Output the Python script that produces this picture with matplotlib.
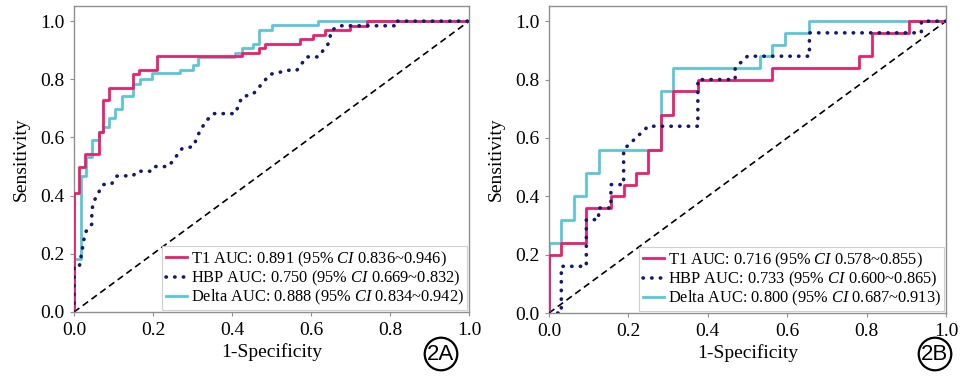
import matplotlib
matplotlib.use('Agg')
import matplotlib.pyplot as plt

plt.rcParams['font.family'] = ['Liberation Serif', 'DejaVu Serif']
plt.rcParams['mathtext.fontset'] = 'custom'
plt.rcParams['mathtext.rm'] = 'Liberation Serif'
plt.rcParams['mathtext.it'] = 'Liberation Serif:italic'

# ---- panel 2A ----
t1_a_fpr = [0, 0, 0.013, 0.013, 0.028, 0.028, 0.062, 0.062, 0.074, 0.074, 0.089, 0.089, 0.150, 0.150,
            0.165, 0.165, 0.211, 0.211, 0.424, 0.424, 0.469, 0.469, 0.484, 0.484, 0.572, 0.572,
            0.604, 0.604, 0.635, 0.635, 0.699, 0.699, 0.741, 0.741, 1.0]
t1_a_tpr = [0, 0.408, 0.408, 0.500, 0.500, 0.544, 0.544, 0.618, 0.618, 0.728, 0.728, 0.771, 0.771, 0.817,
            0.817, 0.831, 0.831, 0.879, 0.879, 0.892, 0.892, 0.909, 0.909, 0.923, 0.923, 0.938,
            0.938, 0.954, 0.954, 0.969, 0.969, 0.984, 0.984, 1.0, 1.0]

hbp_a_fpr = [0, 0, 0.013, 0.028, 0.045, 0.045, 0.049, 0.062, 0.074, 0.095, 0.108, 0.150, 0.159, 0.197,
             0.205, 0.239, 0.273, 0.302, 0.319, 0.336, 0.353, 0.408, 0.425, 0.454, 0.496, 0.543,
             0.564, 0.589, 0.618, 0.644, 0.652, 0.673, 0.813, 0.813, 1.0]
hbp_a_tpr = [0, 0.153, 0.153, 0.273, 0.302, 0.348, 0.377, 0.411, 0.438, 0.440, 0.467, 0.469, 0.484, 0.484,
             0.500, 0.500, 0.561, 0.569, 0.624, 0.659, 0.682, 0.682, 0.739, 0.750, 0.817, 0.831,
             0.831, 0.877, 0.877, 0.923, 0.969, 0.984, 0.984, 1.0, 1.0]

delta_a_fpr = [0, 0, 0.017, 0.017, 0.030, 0.030, 0.045, 0.045, 0.062, 0.062, 0.074, 0.074, 0.089, 0.089,
               0.104, 0.104, 0.121, 0.121, 0.150, 0.150, 0.167, 0.167, 0.197, 0.197, 0.268, 0.268,
               0.302, 0.302, 0.315, 0.315, 0.408, 0.408, 0.425, 0.425, 0.454, 0.454, 0.469, 0.469,
               0.500, 0.500, 0.618, 0.618, 1.0]
delta_a_tpr = [0, 0.182, 0.182, 0.469, 0.469, 0.532, 0.532, 0.592, 0.592, 0.618, 0.618, 0.636, 0.636, 0.668,
               0.668, 0.699, 0.699, 0.741, 0.741, 0.785, 0.785, 0.802, 0.802, 0.820, 0.820, 0.831,
               0.831, 0.848, 0.848, 0.877, 0.877, 0.892, 0.892, 0.909, 0.909, 0.923, 0.923, 0.969,
               0.969, 0.986, 0.986, 1.0, 1.0]

labels_a = ['T1 AUC: 0.891 (95% $\\mathit{CI}$ 0.836~0.946)',
            'HBP AUC: 0.750 (95% $\\mathit{CI}$ 0.669~0.832)',
            'Delta AUC: 0.888 (95% $\\mathit{CI}$ 0.834~0.942)']

# ---- panel 2B ----
t1_b_fpr = [0, 0, 0.031, 0.031, 0.094, 0.094, 0.156, 0.156, 0.188, 0.188, 0.219, 0.219, 0.250, 0.250,
            0.281, 0.281, 0.313, 0.313, 0.375, 0.375, 0.563, 0.563, 0.781, 0.781, 0.813, 0.813,
            0.906, 0.906, 1.0]
t1_b_tpr = [0, 0.20, 0.20, 0.24, 0.24, 0.36, 0.36, 0.40, 0.40, 0.44, 0.44, 0.48, 0.48, 0.56,
            0.56, 0.68, 0.68, 0.76, 0.76, 0.80, 0.80, 0.84, 0.84, 0.88, 0.88, 0.96,
            0.96, 1.0, 1.0]

hbp_b_fpr = [0, 0.031, 0.031, 0.094, 0.094, 0.125, 0.125, 0.156, 0.156, 0.188, 0.188, 0.219, 0.250,
             0.375, 0.375, 0.469, 0.469, 0.500, 0.656, 0.656, 0.906, 0.938, 0.938, 1.0]
hbp_b_tpr = [0, 0, 0.16, 0.16, 0.32, 0.32, 0.36, 0.36, 0.44, 0.44, 0.56, 0.60, 0.64,
             0.64, 0.80, 0.80, 0.84, 0.88, 0.88, 0.96, 0.96, 0.96, 1.0, 1.0]

delta_b_fpr = [0, 0, 0.031, 0.031, 0.063, 0.063, 0.094, 0.094, 0.125, 0.125, 0.281, 0.281, 0.313, 0.313,
               0.531, 0.531, 0.563, 0.563, 0.594, 0.594, 0.656, 0.656, 1.0]
delta_b_tpr = [0, 0.24, 0.24, 0.32, 0.32, 0.40, 0.40, 0.48, 0.48, 0.56, 0.56, 0.76, 0.76, 0.84,
               0.84, 0.88, 0.88, 0.92, 0.92, 0.96, 0.96, 1.0, 1.0]

labels_b = ['T1 AUC: 0.716 (95% $\\mathit{CI}$ 0.578~0.855)',
            'HBP AUC: 0.733 (95% $\\mathit{CI}$ 0.600~0.865)',
            'Delta AUC: 0.800 (95% $\\mathit{CI}$ 0.687~0.913)']

pink = '#e8206e'
navy = '#141a6e'
cyan = '#5cc6d6'
spine_col = '#8f8f8f'


def draw_panel(ax, t1, hbp, delta, labels):
    ax.plot([0, 1], [0, 1], color='black', lw=1.2, ls=(0, (4, 2.5)), zorder=1)
    ax.plot(t1[0], t1[1], color=pink, lw=2.0, label=labels[0], zorder=3)
    ax.plot(hbp[0], hbp[1], color=navy, lw=2.6, ls=(0, (0.1, 2.3)), dash_capstyle='round',
            label=labels[1], zorder=4)
    ax.plot(delta[0], delta[1], color=cyan, lw=2.0, label=labels[2], zorder=2)
    ax.set_xlim(0, 1)
    ax.set_ylim(0, 1.052)
    ax.set_xticks([0, 0.2, 0.4, 0.6, 0.8, 1.0])
    ax.set_yticks([0, 0.2, 0.4, 0.6, 0.8, 1.0])
    ax.set_xticklabels(['0.0', '0.2', '0.4', '0.6', '0.8', '1.0'])
    ax.set_yticklabels(['0.0', '0.2', '0.4', '0.6', '0.8', '1.0'])
    ax.tick_params(labelsize=14, length=3, width=0.8, color=spine_col, pad=4)
    for s in ax.spines.values():
        s.set_color(spine_col)
        s.set_linewidth(1.0)
    ax.set_xlabel('1-Specificity', fontsize=14, labelpad=3)
    ax.set_ylabel('Sensitivity', fontsize=14, labelpad=7)
    leg = ax.legend(loc='lower right', fontsize=11.8, handlelength=1.3, handletextpad=0.25,
                    labelspacing=0.0, borderpad=0.2, borderaxespad=0.1, frameon=True,
                    fancybox=False, edgecolor='#d0d0d0', framealpha=1)
    leg.get_frame().set_linewidth(0.8)


fig = plt.figure(figsize=(9.64, 3.87), dpi=100)
ax_a = fig.add_axes([0.0768, 0.1938, 0.4098, 0.7907])
ax_b = fig.add_axes([0.5695, 0.1912, 0.4118, 0.7933])

draw_panel(ax_a, (t1_a_fpr, t1_a_tpr), (hbp_a_fpr, hbp_a_tpr), (delta_a_fpr, delta_a_tpr), labels_a)
draw_panel(ax_b, (t1_b_fpr, t1_b_tpr), (hbp_b_fpr, hbp_b_tpr), (delta_b_fpr, delta_b_tpr), labels_b)

for x, tag in [(441, '2A'), (935, '2B')]:
    fig.text(x / 964, 1 - 354 / 387, tag, ha='center', va='center', fontsize=16,
             family=['Liberation Sans', 'DejaVu Sans'],
             bbox=dict(boxstyle='circle,pad=0.12', fc='white', ec='black', lw=1.6))

fig.savefig('out.png', dpi=100)
